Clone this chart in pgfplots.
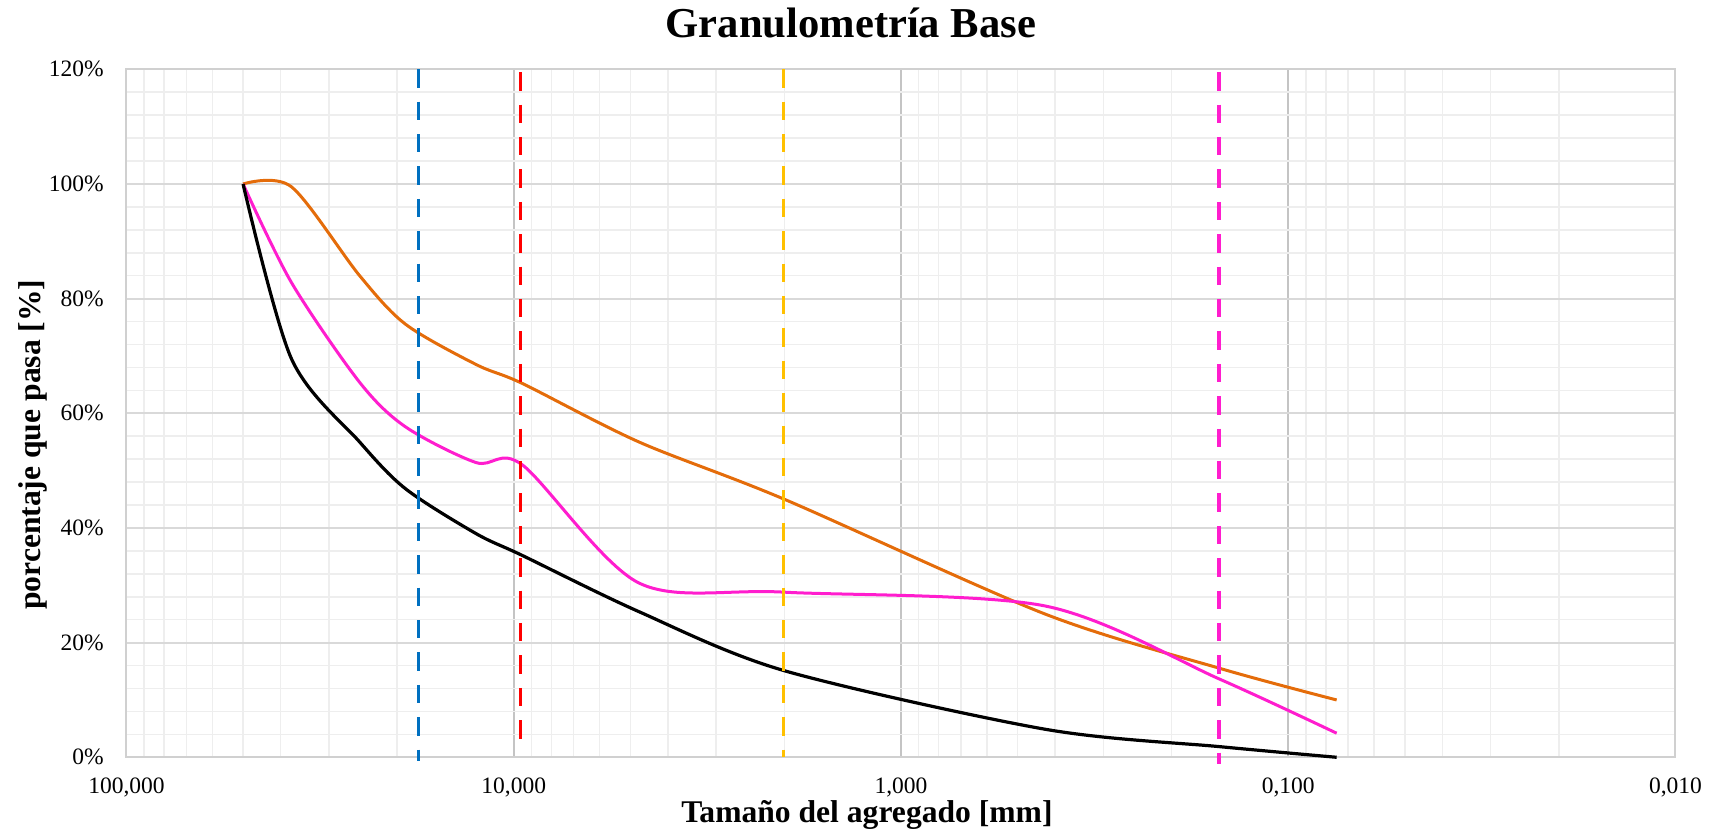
\documentclass[border=0pt]{standalone}
\usepackage{fontspec}
\setmainfont{Liberation Serif}
\usepackage{pgfplots}
\usepackage{pgfplotstable}
\pgfplotsset{compat=1.18}

\definecolor{cOrange}{HTML}{E46C0A}
\definecolor{cPink}{HTML}{FF1DCE}
\definecolor{cBlue}{HTML}{0070C0}
\definecolor{cRed}{HTML}{FF0000}
\definecolor{cYellow}{HTML}{FFC000}
\definecolor{gMajY}{HTML}{D9D9D9}
\definecolor{gMajX}{HTML}{C4C4C4}
\definecolor{gMin}{HTML}{EEEEEE}
\definecolor{gAxis}{HTML}{D0D0D0}

% tamiz [mm]  vs  porcentaje que pasa [%]
\pgfplotstableread{
d p
50 100
37.5 99.5
25 84
19 75.5
12.5 68.5
9.5 65.2
4.75 55
2.0 45
0.425 25
0.15 15.5
0.075 10
}\supBase

\pgfplotstableread{
d p
50 100
37.5 82.8
25 65.4
19 57.6
12.5 51.4
9.5 51.0
4.75 30.4
2.0 28.8
0.425 26.4
0.15 13.6
0.075 4.2
}\muestra

\pgfplotstableread{
d p
50 100
37.5 69.5
25 55
19 46.8
12.5 39
9.5 35.2
4.75 25.4
2.0 15.1
0.425 4.9
0.15 1.85
0.075 0
}\infBase

\begin{document}
\begin{tikzpicture}
\useasboundingbox (-63.25pt,-41.35pt) rectangle (799.75pt,378.65pt);
\begin{axis}[
  at={(0,0)}, anchor=south west,
  scale only axis, width=774.5pt, height=344pt,
  xmode=log, x dir=reverse, xmin=0.01, xmax=100,
  ymin=0, ymax=120,
  clip=false,
  xtick={100,10,1,0.1,0.01},
  xticklabels={{100,000},{10,000},{1,000},{0,100},{0,010}},
  minor xtick={0.02,0.03,0.04,0.05,0.06,0.07,0.08,0.09,
               0.2,0.3,0.4,0.5,0.6,0.7,0.8,0.9,
               2,3,4,5,6,7,8,9,
               20,30,40,50,60,70,80,90},
  ytick={0,20,...,120},
  yticklabels={0\%,20\%,40\%,60\%,80\%,100\%,120\%},
  minor y tick num=4,
  xmajorgrids, xminorgrids, ymajorgrids, yminorgrids,
  major tick length=0pt, minor tick length=0pt,
  major x grid style={draw=gMajX, line width=1pt},
  major y grid style={draw=gMajY, line width=1pt},
  minor grid style={draw=gMin, line width=0.75pt},
  axis line style={draw=gAxis, line width=1pt},
  tick label style={font=\fontsize{11.75}{14}\selectfont, text=black},
  xticklabel style={anchor=base, inner sep=0pt, yshift=-18.35pt},
  yticklabel style={anchor=east, inner sep=0pt, xshift=-11.25pt},
  title={Granulometría Base},
  title style={at={(axis description cs:0.4677,1.02805)}, anchor=base,
               inner sep=0pt, font=\bfseries\fontsize{21.3}{25}\selectfont},
  xlabel={Tamaño del agregado [mm]},
  xlabel style={at={(axis description cs:0.478,0)}, anchor=base,
                inner sep=0pt, yshift=-32.85pt,
                font=\bfseries\fontsize{15.8}{19}\selectfont},
  ylabel={porcentaje que pasa [\%]},
  ylabel style={at={(axis description cs:-0.0552,0.4544)}, anchor=base,
                rotate=0, inner sep=0pt,
                font=\bfseries\fontsize{15.8}{19}\selectfont},
]
% curvas granulométricas
\addplot[cOrange, line width=1.5pt, smooth, no marks] table[x=d, y=p] {\supBase};
\addplot[cPink, line width=1.5pt, smooth, no marks] table[x=d, y=p] {\muestra};
\addplot[black, line width=1.6pt, smooth, no marks] table[x=d, y=p] {\infBase};

% diámetros característicos
\addplot[cBlue, line width=1.75pt, dash pattern=on 9.2pt off 7pt] coordinates {(17.6,120) (17.6,-0.6)};
\addplot[cRed, line width=1.75pt, dash pattern=on 9.2pt off 7pt] coordinates {(9.6,119.5) (9.6,2.3)};
\addplot[cYellow, line width=1.75pt, dash pattern=on 9.2pt off 7pt] coordinates {(2.01,120) (2.01,0)};
\addplot[cPink, line width=1.75pt, dash pattern=on 9.2pt off 7pt] coordinates {(0.151,119.5) (0.151,-1.2)};
\end{axis}
\end{tikzpicture}
\end{document}
